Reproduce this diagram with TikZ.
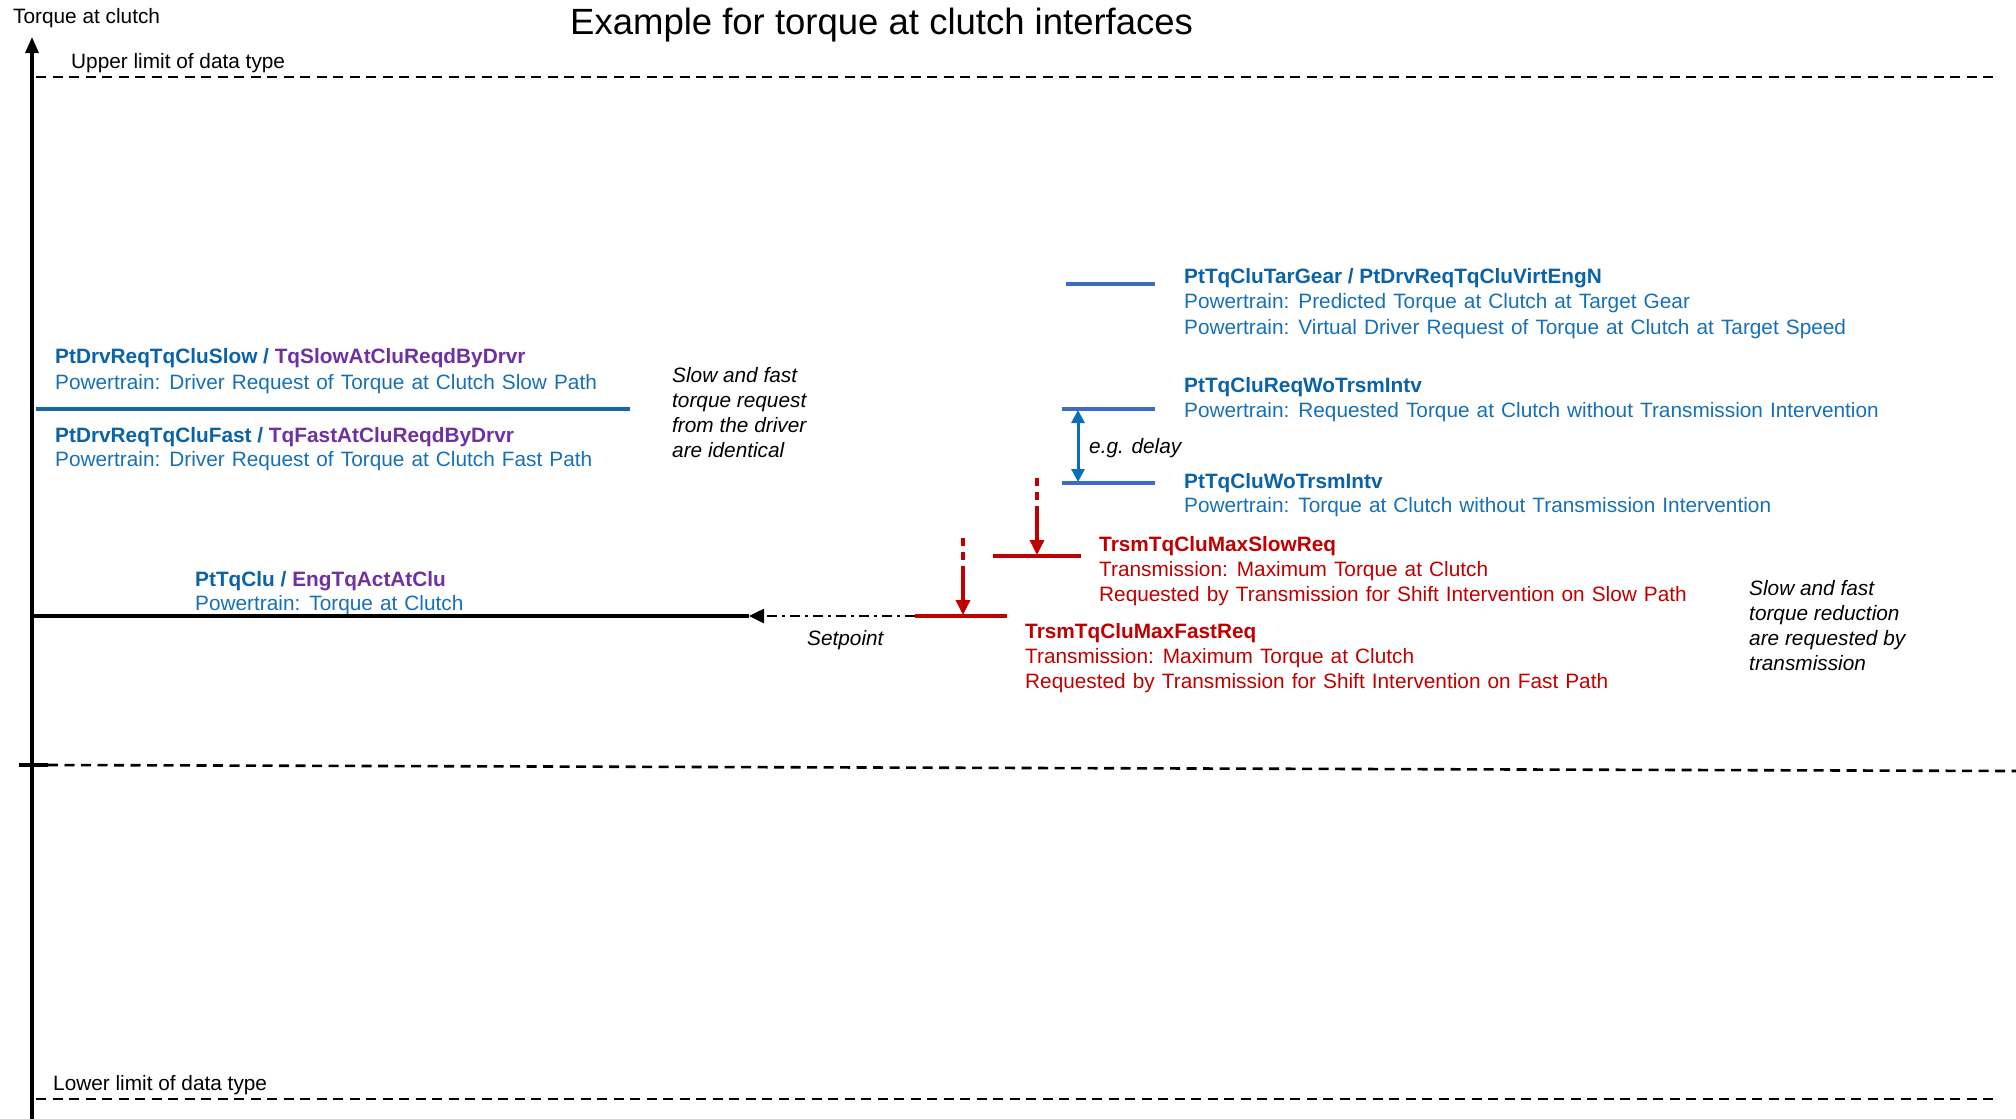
\documentclass[tikz,border=0pt]{standalone}
\usepackage{fontspec}
\setmainfont{Liberation Sans}
\usetikzlibrary{arrows.meta}
\definecolor{txtblue}{RGB}{22,112,184}
\definecolor{hdrblue}{RGB}{10,98,168}
\definecolor{lineblue}{RGB}{60,108,196}
\definecolor{drvblue}{RGB}{20,104,170}
\definecolor{arrblue}{RGB}{10,110,185}
\definecolor{drvpurple}{RGB}{112,48,160}
\definecolor{trsmred}{RGB}{192,0,0}
% slightly wider word spacing for the description lines
\protected\def\widewords{\spaceskip=0.34em plus 0.1em minus 0.05em\relax}

\begin{document}
\begin{tikzpicture}[x=1pt,y=-1pt,
  txt/.style={anchor=base west,inner sep=0pt,font=\fontsize{20.8}{24}\selectfont\widewords},
  plain/.style={anchor=base west,inner sep=0pt,font=\fontsize{20.8}{24}\selectfont},
  hdr/.style={anchor=base west,inner sep=0pt,font=\fontsize{20.8}{24}\selectfont\bfseries},
  note/.style={anchor=base west,inner sep=0pt,font=\fontsize{20.8}{24}\selectfont\itshape},
  limitline/.style={draw=black,line width=2.6pt,dash pattern=on 10pt off 6.5pt},
  levelline/.style={line width=3.4pt},
  tiparrow/.style={-{Triangle[length=15pt,width=14pt]}},
  reddash/.style={draw=trsmred,line width=3.4pt,dash pattern=on 8pt off 6pt},
]
\useasboundingbox (0,0) rectangle (2016,1119);

% ---- axis and limits ----
\coordinate (axbot) at (32,1119);
\coordinate (axtop) at (32,37);
\draw[line width=3.2pt,-{Triangle[length=16pt,width=13pt]}] (axbot) -- (axtop);
\node[plain] (ylabel) at (13,23) {Torque at clutch};
\node[anchor=base west,inner sep=0pt,font=\fontsize{36.5}{40}\selectfont] (title) at (570,34) {Example for torque at clutch interfaces};

\coordinate (up0) at (36,77);
\coordinate (up1) at (1993,77);
\draw[limitline] (up0) -- (up1);
\node[plain] (uplbl) at (71,68) {Upper limit of data type};

\coordinate (zt0) at (19,765);
\coordinate (zt1) at (48,765);
\coordinate (z1) at (2016,771);
\draw[line width=3.6pt] (zt0) -- (zt1);
\draw[limitline] (zt1) -- (z1);

\coordinate (lo0) at (36,1099);
\coordinate (lo1) at (1993,1099);
\draw[limitline] (lo0) -- (lo1);
\node[plain] (lolbl) at (53,1090) {Lower limit of data type};

% ---- driver request (slow = fast) ----
\coordinate (drv0) at (36,409);
\coordinate (drv1) at (630,409);
\draw[levelline,draw=drvblue] (drv0) -- (drv1);
\node[hdr] (slowhdr) at (55,363) {\color{hdrblue}PtDrvReqTqCluSlow / \color{drvpurple}TqSlowAtCluReqdByDrvr};
\node[txt,text=txtblue] (slowdesc) at (55,389) {Powertrain: Driver Request of Torque at Clutch Slow Path};
\node[hdr] (fasthdr) at (55,442) {\color{hdrblue}PtDrvReqTqCluFast / \color{drvpurple}TqFastAtCluReqdByDrvr};
\node[txt,text=txtblue] (fastdesc) at (55,466) {Powertrain: Driver Request of Torque at Clutch Fast Path};

\node[note] (drvnote1) at (672,382) {Slow and fast};
\node[note] (drvnote2) at (672,407) {torque request};
\node[note] (drvnote3) at (672,432) {from the driver};
\node[note] (drvnote4) at (672,457) {are identical};

% ---- torque at clutch ----
\coordinate (tq0) at (32,616);
\coordinate (tqtip) at (749,616);
\draw[line width=3.6pt] (tq0) -- (tqtip);
\node[hdr] (tqhdr) at (195,586) {\color{hdrblue}PtTqClu / \color{drvpurple}EngTqActAtClu};
\node[txt,text=txtblue] (tqdesc) at (195,610) {Powertrain: Torque at Clutch};

% ---- transmission fast request ----
\coordinate (tf0) at (915,616);
\coordinate (tf1) at (1007,616);
\draw[levelline,draw=trsmred] (tf0) -- (tf1);
\draw[line width=2.6pt,dash pattern=on 10pt off 5pt on 3pt off 5pt,tiparrow] (tf0) -- (tqtip);
\node[note] (setpt) at (807,645) {Setpoint};

\coordinate (fa0) at (963,538);
\coordinate (fa1) at (963,572);
\coordinate (fa2) at (963,615);
\draw[reddash] (fa0) -- (fa1);
\draw[color=trsmred,line width=3.4pt,tiparrow] (fa1) -- (fa2);
\node[hdr,text=trsmred] (tfhdr) at (1025,638) {TrsmTqCluMaxFastReq};
\node[txt,text=trsmred] (tfdesc1) at (1025,663) {Transmission: Maximum Torque at Clutch};
\node[txt,text=trsmred] (tfdesc2) at (1025,688) {Requested by Transmission for Shift Intervention on Fast Path};

% ---- transmission slow request ----
\coordinate (ts0) at (993,556);
\coordinate (ts1) at (1081,556);
\draw[levelline,draw=trsmred] (ts0) -- (ts1);
\coordinate (sa0) at (1037,478);
\coordinate (sa1) at (1037,512);
\coordinate (sa2) at (1037,555);
\draw[reddash] (sa0) -- (sa1);
\draw[color=trsmred,line width=3.4pt,tiparrow] (sa1) -- (sa2);
\node[hdr,text=trsmred] (tshdr) at (1099,551) {TrsmTqCluMaxSlowReq};
\node[txt,text=trsmred] (tsdesc1) at (1099,576) {Transmission: Maximum Torque at Clutch};
\node[txt,text=trsmred] (tsdesc2) at (1099,601) {Requested by Transmission for Shift Intervention on Slow Path};

\node[note] (trnote1) at (1749,595) {Slow and fast};
\node[note] (trnote2) at (1749,620) {torque reduction};
\node[note] (trnote3) at (1749,645) {are requested by};
\node[note] (trnote4) at (1749,670) {transmission};

% ---- powertrain levels on the right ----
\coordinate (tg0) at (1066,284);
\coordinate (tg1) at (1155,284);
\draw[levelline,draw=lineblue] (tg0) -- (tg1);
\node[hdr,text=hdrblue] (tghdr) at (1184,283) {PtTqCluTarGear / PtDrvReqTqCluVirtEngN};
\node[txt,text=txtblue] (tgdesc1) at (1184,308) {Powertrain: Predicted Torque at Clutch at Target Gear};
\node[txt,text=txtblue] (tgdesc2) at (1184,334) {Powertrain: Virtual Driver Request of Torque at Clutch at Target Speed};

\coordinate (rq0) at (1062,409);
\coordinate (rq1) at (1155,409);
\draw[levelline,draw=lineblue] (rq0) -- (rq1);
\node[hdr,text=hdrblue] (rqhdr) at (1184,392) {PtTqCluReqWoTrsmIntv};
\node[txt,text=txtblue] (rqdesc) at (1184,417) {Powertrain: Requested Torque at Clutch without Transmission Intervention};

\coordinate (wo0) at (1062,483);
\coordinate (wo1) at (1155,483);
\draw[levelline,draw=lineblue] (wo0) -- (wo1);
\node[hdr,text=hdrblue] (wohdr) at (1184,488) {PtTqCluWoTrsmIntv};
\node[txt,text=txtblue] (wodesc) at (1184,512) {Powertrain: Torque at Clutch without Transmission Intervention};

\coordinate (dl0) at (1078,410);
\coordinate (dl1) at (1078,482);
\draw[color=arrblue,line width=3pt,{Triangle[length=13pt,width=13pt]}-{Triangle[length=13pt,width=13pt]}] (dl0) -- (dl1);
\node[note] (delay) at (1089,453) {e.g. delay};
\end{tikzpicture}
\end{document}
